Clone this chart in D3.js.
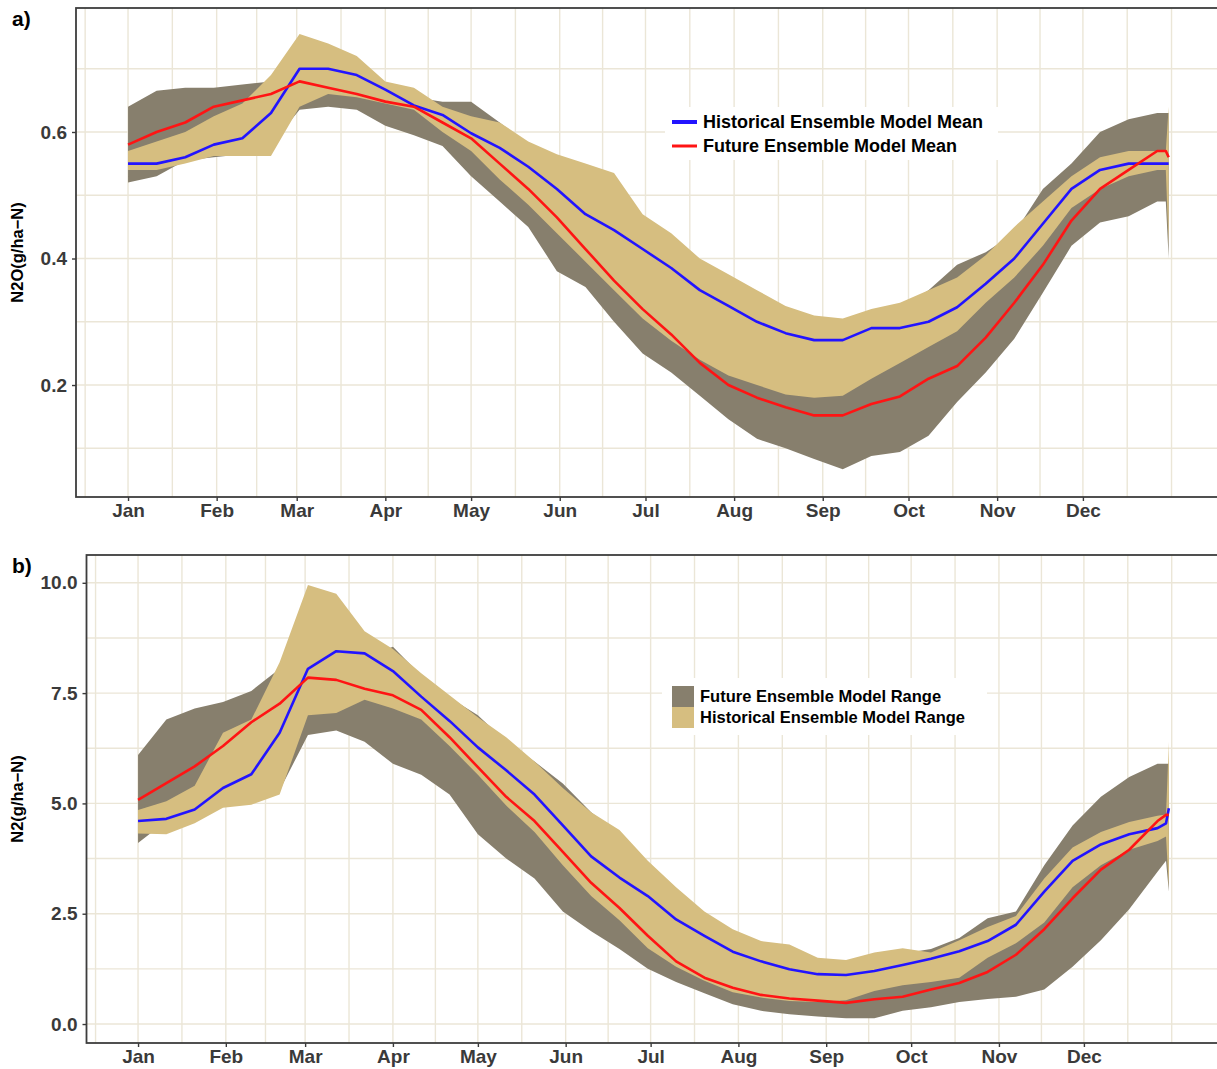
<!DOCTYPE html>
<html>
<head>
<meta charset="utf-8">
<script src="https://cdn.jsdelivr.net/npm/d3@7"></script>
<style>
  body { margin: 0; background: #fff; }
  svg { display: block; font-family: "Liberation Sans", Arial, sans-serif; }
</style>
</head>
<body>
<svg id="chart" width="1217" height="1069"></svg>
<script>
// day of year for every sampled value
const days = [1,11,21,31,41,51,61,71,81,91,101,111,121,131,141,151,161,171,181,191,201,211,221,231,241,251,261,271,281,291,301,311,321,331,341,351,361,364,365];
const monthNames = ["Jan","Feb","Mar","Apr","May","Jun","Jul","Aug","Sep","Oct","Nov","Dec"];
const monthStarts = [1,32,60,91,121,152,182,213,244,274,305,335,366];

// a) N2O (g/ha-N)
const n2oHistMean = [0.55,0.55,0.56,0.58,0.59,0.63,0.70,0.70,0.69,0.667,0.642,0.627,0.598,0.575,0.545,0.51,0.47,0.445,0.415,0.385,0.35,0.325,0.30,0.282,0.271,0.271,0.29,0.29,0.30,0.323,0.36,0.40,0.455,0.51,0.54,0.55,0.55,0.55,0.55];
const n2oFutMean  = [0.58,0.60,0.615,0.64,0.65,0.66,0.68,0.67,0.66,0.648,0.64,0.615,0.59,0.55,0.51,0.465,0.415,0.365,0.32,0.28,0.235,0.20,0.18,0.165,0.152,0.152,0.17,0.182,0.21,0.23,0.275,0.33,0.39,0.46,0.51,0.54,0.57,0.57,0.56];
const n2oHistHi   = [0.57,0.585,0.60,0.625,0.645,0.69,0.755,0.74,0.72,0.68,0.67,0.64,0.625,0.615,0.585,0.565,0.55,0.535,0.47,0.44,0.40,0.375,0.35,0.325,0.31,0.305,0.32,0.33,0.35,0.37,0.405,0.45,0.49,0.53,0.56,0.57,0.57,0.57,0.64];
const n2oHistLo   = [0.54,0.54,0.55,0.562,0.562,0.562,0.64,0.66,0.655,0.645,0.635,0.60,0.57,0.525,0.485,0.44,0.395,0.35,0.305,0.27,0.24,0.215,0.20,0.185,0.18,0.183,0.21,0.235,0.26,0.285,0.33,0.37,0.42,0.48,0.51,0.53,0.54,0.54,0.42];
const n2oFutHi    = [0.64,0.665,0.67,0.67,0.675,0.68,0.68,0.68,0.665,0.66,0.655,0.648,0.648,0.615,0.58,0.55,0.53,0.50,0.44,0.41,0.38,0.35,0.33,0.31,0.29,0.29,0.30,0.32,0.35,0.39,0.41,0.44,0.51,0.55,0.60,0.62,0.63,0.63,0.63];
const n2oFutLo    = [0.52,0.53,0.555,0.56,0.565,0.58,0.635,0.64,0.635,0.61,0.595,0.578,0.53,0.49,0.45,0.38,0.355,0.30,0.25,0.22,0.183,0.146,0.115,0.10,0.083,0.067,0.088,0.094,0.12,0.173,0.22,0.273,0.346,0.42,0.457,0.467,0.49,0.49,0.40];
const n2oTicks = [0.2, 0.4, 0.6];
const n2oMinor = [0.1, 0.3, 0.5, 0.7];

// b) N2 (g/ha-N)
const n2HistMean = [4.6,4.65,4.86,5.35,5.66,6.6,8.05,8.45,8.4,8.0,7.42,6.87,6.27,5.75,5.2,4.5,3.8,3.32,2.9,2.37,2.0,1.64,1.42,1.24,1.13,1.11,1.2,1.34,1.48,1.65,1.88,2.25,3.0,3.7,4.07,4.3,4.44,4.55,4.89];
const n2FutMean  = [5.08,5.46,5.84,6.3,6.84,7.26,7.85,7.8,7.6,7.45,7.12,6.5,5.82,5.15,4.6,3.9,3.2,2.63,2.0,1.42,1.05,0.82,0.66,0.58,0.53,0.48,0.56,0.62,0.78,0.93,1.18,1.57,2.15,2.85,3.5,3.95,4.6,4.74,4.74];
const n2HistHi   = [4.85,5.05,5.4,6.6,6.9,8.2,9.95,9.75,8.9,8.5,7.95,7.45,6.95,6.5,5.95,5.35,4.8,4.4,3.7,3.1,2.55,2.15,1.88,1.8,1.5,1.45,1.62,1.72,1.62,1.9,2.2,2.45,3.3,4.0,4.35,4.58,4.72,4.75,6.4];
const n2HistLo   = [4.32,4.3,4.55,4.9,4.97,5.2,7.0,7.05,7.35,7.15,6.9,6.3,5.65,4.95,4.35,3.6,2.9,2.35,1.72,1.3,0.98,0.72,0.6,0.52,0.5,0.54,0.75,0.88,0.95,1.05,1.5,1.83,2.3,3.1,3.6,3.95,4.15,4.25,3.1];
const n2FutHi    = [6.1,6.9,7.15,7.3,7.55,8.05,8.0,8.2,8.3,8.55,7.9,7.4,7.0,6.4,5.95,5.45,4.8,4.3,3.6,3.0,2.45,2.05,1.8,1.7,1.4,1.35,1.5,1.6,1.7,1.95,2.4,2.55,3.6,4.5,5.15,5.6,5.9,5.9,5.9];
const n2FutLo    = [4.1,4.6,4.8,5.0,5.1,5.3,6.55,6.65,6.4,5.9,5.65,5.2,4.3,3.75,3.3,2.55,2.1,1.7,1.25,0.95,0.7,0.45,0.3,0.22,0.17,0.13,0.13,0.3,0.38,0.5,0.57,0.62,0.78,1.3,1.9,2.6,3.45,3.7,3.0];
const n2Ticks = [0, 2.5, 5, 7.5, 10];
const n2Minor = [1.25, 3.75, 6.25, 8.75];

const gridColor = "#ebe6d7";
const greyBand = "#877f6d";
const tanBand = "#d6be80";
const blue = "#2214ff";
const red = "#ff1414";

// minor x gridlines sit half way between month starts (incl. previous Dec 1)
const xMinor = d3.pairs([-29].concat(monthStarts)).map(([a, b]) => (a + b) / 2);

const svg = d3.select("#chart");
svg.append("rect").attr("width", 1217).attr("height", 1069).attr("fill", "#fff");

function panel(p) {
  const x = d3.scaleLinear().domain([-17.2, 383.2]).range([p.left, p.right]);
  const y = d3.scaleLinear().domain(p.yDomain).range([p.bottom, p.top]);
  const g = svg.append("g");

  // grid
  const grid = g.append("g").attr("stroke", gridColor).attr("stroke-width", 1.4);
  grid.selectAll("line.gx").data(monthStarts.concat(xMinor)).join("line").attr("class", "gx")
    .attr("x1", d => x(d)).attr("x2", d => x(d)).attr("y1", p.top).attr("y2", p.bottom);
  grid.selectAll("line.gy").data(p.yTicks.concat(p.yMinor)).join("line").attr("class", "gy")
    .attr("x1", p.left).attr("x2", p.right).attr("y1", d => y(d)).attr("y2", d => y(d));

  const rows = days.map((d, i) => ({
    day: d, flo: p.futLo[i], fhi: p.futHi[i], hlo: p.histLo[i], hhi: p.histHi[i],
    hm: p.histMean[i], fm: p.futMean[i]
  }));

  // ranges: future first, historical on top
  g.append("path").datum(rows).attr("fill", greyBand)
    .attr("d", d3.area().x(d => x(d.day)).y0(d => y(d.flo)).y1(d => y(d.fhi)));
  g.append("path").datum(rows).attr("fill", tanBand)
    .attr("d", d3.area().x(d => x(d.day)).y0(d => y(d.hlo)).y1(d => y(d.hhi)));

  // means
  g.append("path").datum(rows).attr("fill", "none").attr("stroke", blue).attr("stroke-width", 2.6)
    .attr("stroke-linejoin", "round").attr("d", d3.line().x(d => x(d.day)).y(d => y(d.hm)));
  g.append("path").datum(rows).attr("fill", "none").attr("stroke", red).attr("stroke-width", 2.6)
    .attr("stroke-linejoin", "round").attr("d", d3.line().x(d => x(d.day)).y(d => y(d.fm)));

  // axes
  const xa = g.append("g").attr("transform", `translate(0,${p.bottom})`)
    .call(d3.axisBottom(x).tickValues(monthStarts.slice(0, 12))
      .tickFormat((d, i) => monthNames[i]).tickSize(4).tickPadding(3));
  const ya = g.append("g").attr("transform", `translate(${p.left},0)`)
    .call(d3.axisLeft(y).tickValues(p.yTicks).tickFormat(d3.format(".1f")).tickSize(4).tickPadding(5));
  for (const a of [xa, ya]) {
    a.select(".domain").remove();
    a.selectAll(".tick line").attr("stroke", "#3a3a3a").attr("stroke-width", 1.4);
    a.selectAll(".tick text").attr("fill", "#3a3a3a").attr("font-size", 19)
      .attr("font-weight", 700).attr("font-family", "Liberation Sans, Arial, sans-serif");
  }

  // frame
  g.append("rect").attr("x", p.left).attr("y", p.top)
    .attr("width", p.right - p.left).attr("height", p.bottom - p.top)
    .attr("fill", "none").attr("stroke", "#3d3d3d").attr("stroke-width", 1.8);

  // axis title & panel tag
  g.append("text").attr("transform", `translate(23,${(p.top + p.bottom) / 2}) rotate(-90)`)
    .attr("text-anchor", "middle").attr("font-size", 16.5).attr("font-weight", 700)
    .attr("fill", "#000").text(p.title);
  g.append("text").attr("x", 12).attr("y", p.top + 18).attr("font-size", 21)
    .attr("font-weight", 700).attr("fill", "#000").text(p.tag);

  return g;
}

const ga = panel({
  left: 76, right: 1220.7, top: 8, bottom: 497, yDomain: [0.023, 0.796],
  yTicks: n2oTicks, yMinor: n2oMinor, title: "N2O(g/ha\u2212N)", tag: "a)",
  histMean: n2oHistMean, futMean: n2oFutMean, histHi: n2oHistHi, histLo: n2oHistLo,
  futHi: n2oFutHi, futLo: n2oFutLo
});

const gb = panel({
  left: 86.5, right: 1220.4, top: 555, bottom: 1043, yDomain: [-0.43, 10.63],
  yTicks: n2Ticks, yMinor: n2Minor, title: "N2(g/ha\u2212N)", tag: "b)",
  histMean: n2HistMean, futMean: n2FutMean, histHi: n2HistHi, histLo: n2HistLo,
  futHi: n2FutHi, futLo: n2FutLo
});

// legend a: means
const la = ga.append("g");
la.append("rect").attr("x", 665).attr("y", 107).attr("width", 333).attr("height", 53).attr("fill", "#fff");
[["Historical Ensemble Model Mean", blue, 4, 122], ["Future Ensemble Model Mean", red, 3, 146]]
  .forEach(([label, col, w, yy]) => {
    la.append("line").attr("x1", 672).attr("x2", 697).attr("y1", yy).attr("y2", yy)
      .attr("stroke", col).attr("stroke-width", w);
    la.append("text").attr("x", 703).attr("y", yy + 6).attr("font-size", 18)
      .attr("font-weight", 700).attr("fill", "#000").text(label);
  });

// legend b: ranges
const lb = gb.append("g");
lb.append("rect").attr("x", 662).attr("y", 678).attr("width", 325).attr("height", 57).attr("fill", "#fff");
[["Future Ensemble Model Range", greyBand, 686], ["Historical Ensemble Model Range", tanBand, 707]]
  .forEach(([label, col, yy]) => {
    lb.append("rect").attr("x", 672).attr("y", yy).attr("width", 22).attr("height", 21).attr("fill", col);
    lb.append("text").attr("x", 700).attr("y", yy + 16).attr("font-size", 16.5)
      .attr("font-weight", 700).attr("fill", "#000").text(label);
  });
</script>
</body>
</html>
